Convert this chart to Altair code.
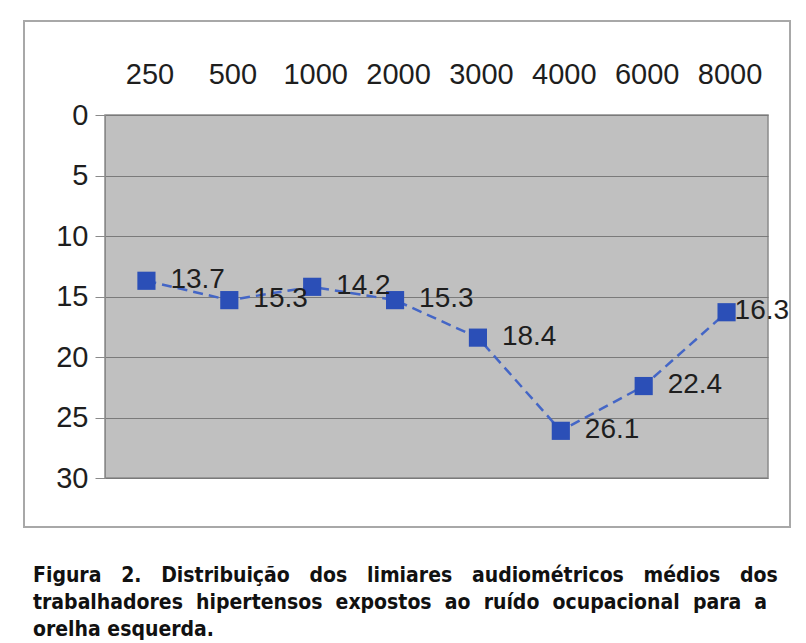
import altair as alt
import pandas as pd

freqs = ["250", "500", "1000", "2000", "3000", "4000", "6000", "8000"]
thresholds = [13.7, 15.3, 14.2, 15.3, 18.4, 26.1, 22.4, 16.3]
y_ticks = [0, 5, 10, 15, 20, 25, 30]
caption_words = [
    ["Figura", "2.", "Distribuição", "dos", "limiares", "audiométricos", "médios", "dos"],
    ["trabalhadores", "hipertensos", "expostos", "ao", "ruído", "ocupacional", "para", "a"],
    ["orelha", "esquerda."],
]
# word gaps (in spaces) used to imitate the justified caption
caption_gaps = [3, 2, 1]

caption_lines = [("\u00a0" * g).join(ws) for ws, g in zip(caption_words, caption_gaps)]

df = pd.DataFrame({"freq": freqs, "value": thresholds})
df["label"] = [f"{v:.1f}" for v in thresholds]

FONT = "Liberation Sans"
x_enc = alt.X("freq:N", sort=freqs, scale=alt.Scale(type="point", padding=0.5),
              axis=alt.Axis(orient="top", title=None, ticks=False, domain=False,
                            labelAngle=0, labelFontSize=29, labelFont=FONT,
                            labelColor="#1e1e1e", labelPadding=26, grid=False,
                            labelOffset=3))
y_enc = alt.Y("value:Q", scale=alt.Scale(domain=[0, 30], reverse=True, nice=False),
              axis=alt.Axis(title=None, values=y_ticks, labelFontSize=29, labelFont=FONT,
                            labelColor="#1e1e1e", tickSize=10, tickColor="#8a8a8a",
                            labelPadding=7, domainColor="#8a8a8a", gridColor="#7a7a7a",
                            gridWidth=1.2))

base = alt.Chart(df)

frame = base.mark_rect(fill=None, stroke="#a8a8a8", strokeWidth=1.5).encode(
    x=alt.value(-81), x2=alt.value(685), y=alt.value(-94), y2=alt.value(412))

line = base.mark_line(color="#4466c6", strokeWidth=2.5, strokeDash=[10, 6]).encode(
    x=x_enc, y=y_enc)

points = base.mark_square(size=330, color="#2b4fb7", opacity=1).encode(x=x_enc, y=y_enc)

labels = base.transform_filter(alt.datum.freq != "8000").mark_text(
    align="left", dx=24, dy=-1, fontSize=28, font=FONT, color="#1e1e1e").encode(
    x=x_enc, y=y_enc, text="label:N")

labels_last = base.transform_filter(alt.datum.freq == "8000").mark_text(
    align="left", dx=8, dy=-1, fontSize=28, font=FONT, color="#1e1e1e").encode(
    x=x_enc, y=y_enc, text="label:N")

caption = base.transform_filter(alt.datum.freq == "250").mark_text(
    align="left", baseline="alphabetic", fontSize=21, font="DejaVu Sans Condensed",
    fontWeight="bold", color="#111111", lineHeight=27).encode(
    x=alt.value(-72), y=alt.value(467), text=alt.value(caption_lines))

chart = alt.layer(frame, line, points, labels, labels_last, caption).properties(
    width=663, height=363,
    autosize=alt.AutoSizeParams(type="none"),
    padding={"left": 97, "top": 107, "right": 30, "bottom": 165},
    background="white",
).configure_view(fill="#c0c0c0", stroke="#8a8a8a", strokeWidth=1.5)

chart.save("out.html", embed_options={"renderer": "svg", "actions": False})
